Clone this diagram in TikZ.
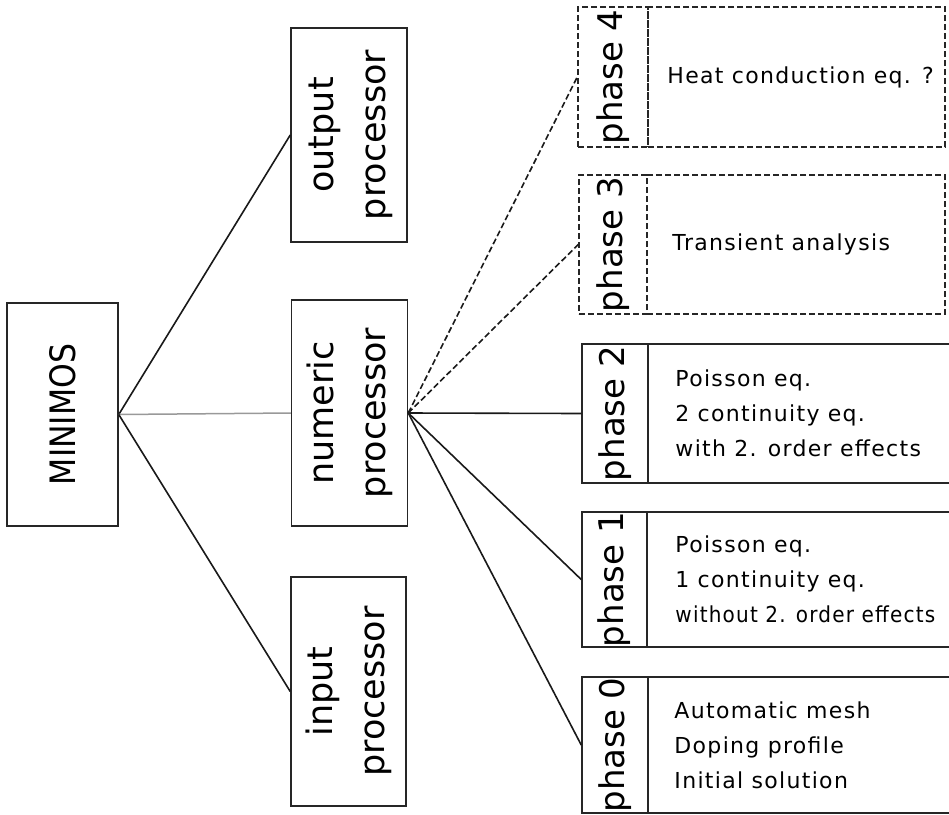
\documentclass[tikz,border=0pt]{standalone}
\usepackage{fontspec}
\setmainfont{DejaVu Sans}
\newfontfamily\descfont[LetterSpace=6]{DejaVu Sans}
\newcommand\mainlab{\fontsize{35}{52}\selectfont}
\newcommand\phaselab{\fontsize{34}{40}\selectfont}
\newcommand\desclab{\descfont\fontsize{22}{35}\selectfont}
\tikzset{
  box/.style={draw=black!85, line width=1.5pt, inner sep=0pt, font=\mainlab},
  phasebox/.style={draw=black!85, line width=1.5pt, inner sep=0pt, font=\phaselab},
  dashedbox/.style={phasebox, dash pattern=on 6pt off 3pt},
  desctext/.style={anchor=west, inner sep=0pt, align=left, font=\desclab},
  link/.style={line width=1.6pt, draw=black!90},
  faintlink/.style={line width=1.5pt, draw=black!40},
  dlink/.style={link, dash pattern=on 6pt off 3pt}
}
\begin{document}
\begin{tikzpicture}[x=1pt,y=-1pt]
\useasboundingbox (0,0) rectangle (949,814);
\fill[white] (0,0) rectangle (949,814);

% main boxes
\node[box, minimum width=111pt, minimum height=223pt] (minimos) at (62.5,414.5)
  {\rotatebox{90}{\scalebox{0.9}[1]{MINIMOS}}};
\node[box, minimum width=116pt, minimum height=214pt] (output) at (349,135)
  {\rotatebox{90}{\begin{tabular}{@{}c@{}}output\\processor\end{tabular}}};
\node[box, minimum width=116pt, minimum height=226pt] (numeric) at (349.5,413)
  {\rotatebox{90}{\begin{tabular}{@{}c@{}}numeric\\processor\end{tabular}}};
\node[box, minimum width=115pt, minimum height=229pt] (input) at (348.5,691.5)
  {\rotatebox{90}{\begin{tabular}{@{}c@{}}input\\processor\end{tabular}}};

% phase 4
\node[dashedbox, minimum width=70pt, minimum height=140pt] (p4l) at (613,77) {\rotatebox{90}{phase 4}};
\node[dashedbox, minimum width=297pt, minimum height=140pt] (p4d) at (796.5,77) {};
\node[desctext] (p4t) at ([xshift=20pt]p4d.west) {Heat conduction eq. ?};

% phase 3
\node[dashedbox, minimum width=68pt, minimum height=139pt] (p3l) at (613,244.5) {\rotatebox{90}{phase 3}};
\node[dashedbox, minimum width=298pt, minimum height=139pt] (p3d) at (796,244.5) {};
\node[desctext] (p3t) at ([xshift=26pt]p3d.west) {Transient analysis};

% phase 2
\node[phasebox, minimum width=66pt, minimum height=139pt] (p2l) at (615,413.5) {\rotatebox{90}{phase 2}};
\node[phasebox, minimum width=312pt, minimum height=139pt] (p2d) at (804,413.5) {};
\node[desctext] (p2t) at ([xshift=28pt]p2d.west) {Poisson eq.\\2 continuity eq.\\with 2. order effects};

% phase 1
\node[phasebox, minimum width=65pt, minimum height=135pt] (p1l) at (614.5,579.5) {\rotatebox{90}{phase 1}};
\node[phasebox, minimum width=313pt, minimum height=135pt] (p1d) at (803.5,579.5) {};
\node[desctext] (p1t) at ([xshift=29pt]p1d.west) {Poisson eq.\\1 continuity eq.\\\scalebox{0.91}[1]{without 2. order effects}};

% phase 0
\node[phasebox, minimum width=66pt, minimum height=136pt] (p0l) at (615,745) {\rotatebox{90}{phase 0}};
\node[phasebox, minimum width=312pt, minimum height=136pt] (p0d) at (804,745) {};
\node[desctext] (p0t) at ([xshift=27pt]p0d.west) {Automatic mesh\\Doping profile\\Initial solution};

% connectors
\draw[link] (minimos.east) -- (output.west);
\draw[faintlink] (minimos.east) -- (numeric.west);
\draw[link] (minimos.east) -- (input.west);
\draw[dlink] (numeric.east) -- (p4l.west);
\draw[dlink] (numeric.east) -- (p3l.west);
\draw[link] (numeric.east) -- (p2l.west);
\draw[link] (numeric.east) -- (p1l.west);
\draw[link] (numeric.east) -- (p0l.west);
\end{tikzpicture}
\end{document}
